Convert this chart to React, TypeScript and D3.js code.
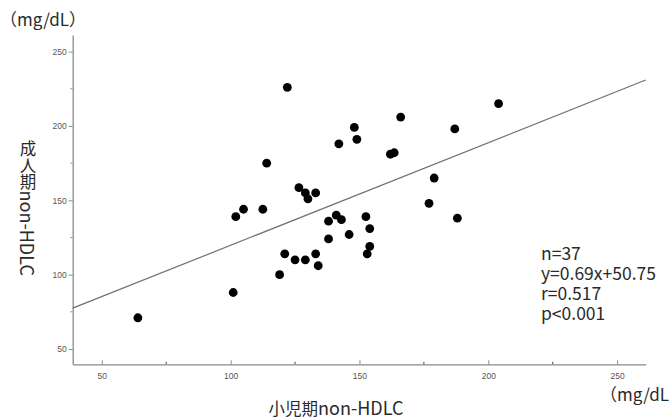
import React, { useRef, useEffect } from 'react'
import * as d3 from 'd3'

// 小児期 (x) vs 成人期 (y) non-HDLC, mg/dL
const childValues = [
  64, 101, 102, 105, 112.5, 114, 119, 121, 122, 125, 126.5, 129, 129, 130, 133, 133, 134,
  138, 138, 141, 143, 142, 146, 148, 149, 152.5, 153, 154, 154, 162, 163.5, 166, 177,
  179, 187, 188, 204
]
const adultValues = [
  71, 88, 139, 144, 144, 175, 100, 114, 226, 110, 158.5, 110, 155, 151, 114, 155, 106,
  136, 124, 140, 137, 188, 127, 199, 191, 139, 114, 131, 119, 181, 182, 206, 148,
  165, 198, 138, 215
]
const xTicks = [50, 100, 150, 200, 250]
const yTicks = [50, 100, 150, 200, 250]
const xMinorTicks = [75, 125, 175, 225]
const yMinorTicks = [75, 125, 175, 225]
const slope = 0.69
const intercept = 50.75
const statsLines = ['n=37', 'y=0.69x+50.75', 'r=0.517', 'p<0.001']

const W = 670
const H = 418
const plot = { left: 72.7, right: 645.7, top: 35, bottom: 364.3 }
const jp = '"Noto Sans CJK JP", "Noto Sans", sans-serif'
const textColor = '#2a2a2a'

const App = () => {
  const svgRef = useRef<SVGSVGElement>(null)

  useEffect(() => {
    const svg = d3.select(svgRef.current)
    svg.selectAll('*').remove()

    const x = d3.scaleLinear().domain([38.7, 261.1]).range([plot.left, plot.right])
    const y = d3.scaleLinear().domain([39.7, 261.2]).range([plot.bottom, plot.top])

    const axisColor = '#8a8a8a'
    const tickTextColor = '#555'

    // axes
    const xAxis = svg
      .append('g')
      .attr('transform', `translate(0,${plot.bottom})`)
      .call(d3.axisBottom(x).tickValues(xTicks).tickSize(-4).tickSizeOuter(0).tickPadding(9))
    xAxis.select('.domain').attr('stroke', axisColor).attr('stroke-width', 1.3)
    xAxis.selectAll('line').attr('stroke', axisColor)
    xAxis
      .selectAll('text')
      .attr('fill', tickTextColor)
      .attr('font-size', 8.5)
      .attr('font-family', '"Liberation Sans", Arial, sans-serif')

    svg
      .append('g')
      .selectAll('line')
      .data(xMinorTicks)
      .enter()
      .append('line')
      .attr('x1', d => x(d))
      .attr('x2', d => x(d))
      .attr('y1', plot.bottom)
      .attr('y2', plot.bottom - 2.5)
      .attr('stroke', '#666')
      .attr('stroke-width', 1.2)

    const yAxis = svg
      .append('g')
      .attr('transform', `translate(${plot.left},0)`)
      .call(d3.axisLeft(y).tickValues(yTicks).tickSize(4).tickSizeOuter(0).tickPadding(2))
    yAxis.select('.domain').attr('stroke', axisColor).attr('stroke-width', 1.3)
    yAxis.selectAll('line').attr('stroke', axisColor)
    yAxis
      .selectAll('text')
      .attr('fill', tickTextColor)
      .attr('font-size', 8.5)
      .attr('font-family', '"Liberation Sans", Arial, sans-serif')

    svg
      .append('g')
      .selectAll('line')
      .data(yMinorTicks)
      .enter()
      .append('line')
      .attr('x1', plot.left)
      .attr('x2', plot.left - 2.5)
      .attr('y1', d => y(d))
      .attr('y2', d => y(d))
      .attr('stroke', '#999')

    // regression line
    const line = d3
      .line<number>()
      .x(d => x(d))
      .y(d => y(slope * d + intercept))
    svg
      .append('path')
      .attr('d', line(x.domain()))
      .attr('fill', 'none')
      .attr('stroke', '#707070')
      .attr('stroke-width', 1.2)

    // points
    svg
      .append('g')
      .selectAll('circle')
      .data(childValues.map((c, i) => [c, adultValues[i]]))
      .enter()
      .append('circle')
      .attr('cx', d => x(d[0]))
      .attr('cy', d => y(d[1]))
      .attr('r', 4.4)
      .attr('fill', '#000')

    // stats
    svg
      .append('g')
      .selectAll('text')
      .data(statsLines)
      .enter()
      .append('text')
      .attr('x', 541)
      .attr('y', (d, i) => 260 + i * 20)
      .attr('font-size', 17.5)
      .attr('font-family', jp)
      .attr('fill', textColor)
      .text(d => d)

    // unit labels
    const unit = (px: number, py: number) =>
      svg
        .append('text')
        .attr('x', px)
        .attr('y', py)
        .attr('font-size', 17)
        .attr('font-family', jp)
        .attr('fill', textColor)
        .text('（mg/dL）')
    unit(0, 26)
    unit(600, 401)

    // axis titles: CJK part and latin part sized separately
    const title = (sel: d3.Selection<SVGTextElement, unknown, null, undefined>, cjk: string) => {
      sel.append('tspan').attr('font-size', 16.5).text(cjk)
      sel.append('tspan').attr('font-size', 18).text('non-HDLC')
    }
    const xTitle = svg
      .append('text')
      .attr('x', 336)
      .attr('y', 415)
      .attr('text-anchor', 'middle')
      .attr('font-family', jp)
      .attr('fill', textColor)
    title(xTitle as any, '小児期')
    const yTitle = svg
      .append('text')
      .attr('x', 28)
      .attr('y', 208)
      .attr('text-anchor', 'middle')
      .attr('font-family', jp)
      .attr('fill', textColor)
      .style('writing-mode', 'vertical-rl')
      .style('text-orientation', 'mixed')
    title(yTitle as any, '成人期')
  }, [])

  return (
    <svg
      ref={svgRef}
      width={W}
      height={H}
      style={{ position: 'absolute', left: 0, top: 0, background: '#fff' }}
    />
  )
}

export default App
